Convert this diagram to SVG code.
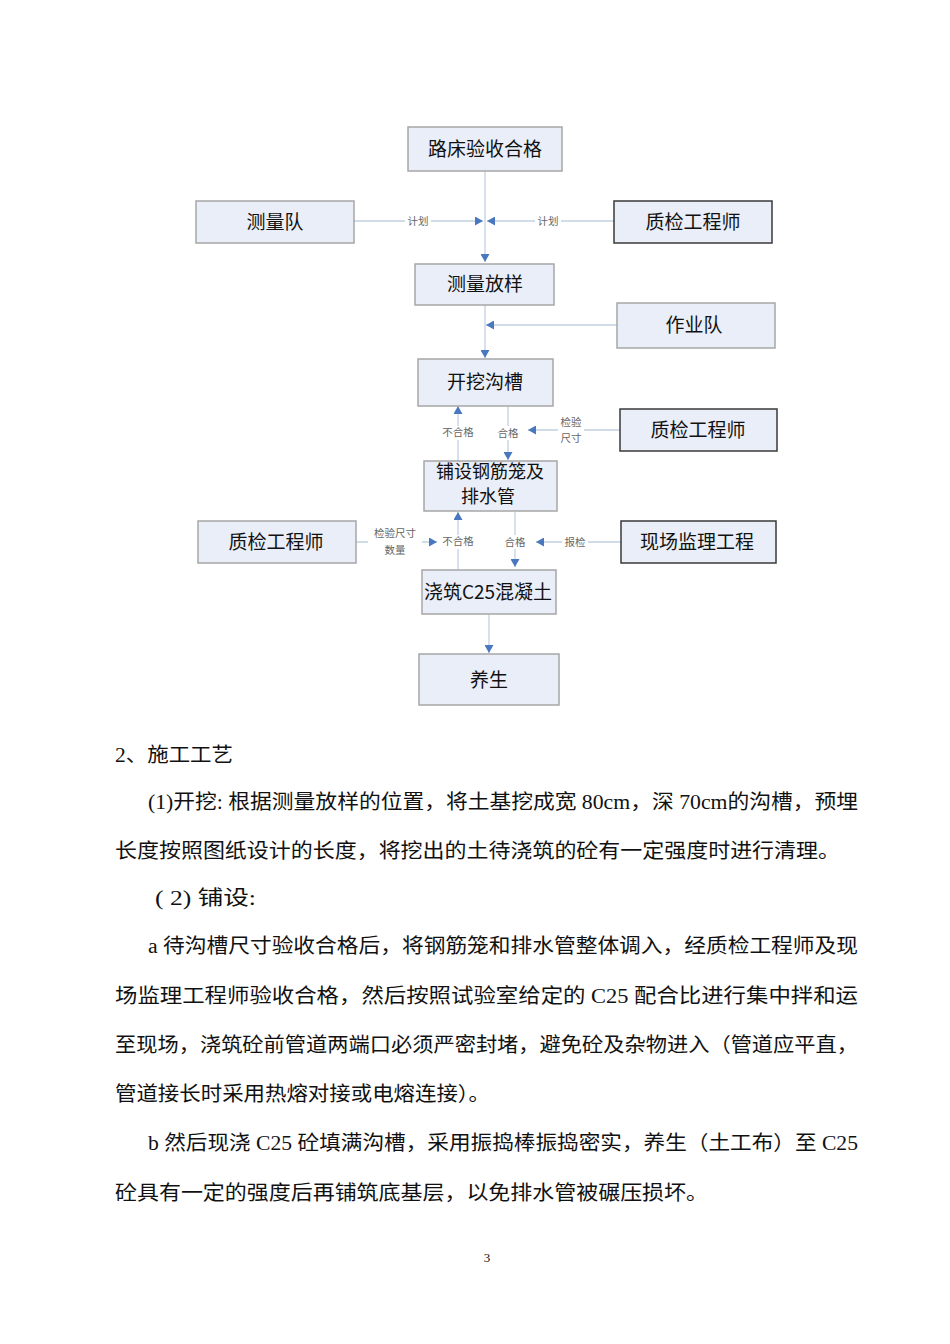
<svg xmlns="http://www.w3.org/2000/svg" width="950" height="1344" viewBox="0 0 950 1344">
<style>
.box{fill:#E9EEF8;stroke:#A6A6A6;stroke-width:1.5}
.dark{fill:#E9EEF8;stroke:#3A3A3A;stroke-width:1.5}
.bt{font-family:"Noto Sans CJK SC",sans-serif;font-size:19px;fill:#111;text-anchor:middle}
.ln{stroke:#C2D0E2;stroke-width:1.3;fill:none}
.lb{font-family:"Liberation Serif","Noto Sans CJK SC",serif;font-size:10.5px;fill:#666;text-anchor:middle}
.bg{fill:#fff}
.p{font-family:"Liberation Serif","Noto Sans CJK SC",serif;font-size:20px;fill:#111}
</style>
<defs>
<marker id="ar" markerWidth="9" markerHeight="9" refX="8" refY="4.5" orient="auto" markerUnits="userSpaceOnUse">
<path d="M0,0 L8,4.5 L0,9 Z" fill="#4A78BE"/>
</marker>
</defs>
<rect width="950" height="1344" fill="#fff"/>

<g id="connectors">
<line class="ln" x1="485" y1="171" x2="485" y2="262" marker-end="url(#ar)"/>
<line class="ln" x1="354" y1="221" x2="483" y2="221" marker-end="url(#ar)"/>
<line class="ln" x1="614" y1="221" x2="487" y2="221" marker-end="url(#ar)"/>
<rect class="bg" x="405" y="214" width="26" height="14"/>
<text class="lb" x="418" y="225">计划</text>
<rect class="bg" x="535" y="214" width="26" height="14"/>
<text class="lb" x="548" y="225">计划</text>

<line class="ln" x1="617" y1="325" x2="486" y2="325" marker-end="url(#ar)"/>
<line class="ln" x1="485" y1="305" x2="485" y2="358" marker-end="url(#ar)"/>

<line class="ln" x1="458" y1="461" x2="458" y2="406" marker-end="url(#ar)"/>
<line class="ln" x1="508" y1="406" x2="508" y2="460" marker-end="url(#ar)"/>
<line class="ln" x1="620" y1="430" x2="528" y2="430" marker-end="url(#ar)"/>
<rect class="bg" x="440" y="426" width="36" height="14"/>
<text class="lb" x="458" y="436">不合格</text>
<rect class="bg" x="495" y="426" width="26" height="14"/>
<text class="lb" x="508" y="437">合格</text>
<rect class="bg" x="558" y="414" width="26" height="30"/>
<text class="lb" x="571" y="426">检验</text>
<text class="lb" x="571" y="442">尺寸</text>

<line class="ln" x1="458" y1="570" x2="458" y2="512" marker-end="url(#ar)"/>
<line class="ln" x1="515" y1="512" x2="515" y2="567" marker-end="url(#ar)"/>
<line class="ln" x1="356" y1="542" x2="437" y2="542" marker-end="url(#ar)"/>
<line class="ln" x1="621" y1="542" x2="536" y2="542" marker-end="url(#ar)"/>
<rect class="bg" x="368" y="526" width="54" height="30"/>
<text class="lb" x="395" y="537">检验尺寸</text>
<text class="lb" x="395" y="554">数量</text>
<rect class="bg" x="440" y="535" width="36" height="14"/>
<text class="lb" x="458" y="545">不合格</text>
<rect class="bg" x="502" y="535" width="26" height="14"/>
<text class="lb" x="515" y="546">合格</text>
<rect class="bg" x="562" y="535" width="26" height="14"/>
<text class="lb" x="575" y="546">报检</text>

<line class="ln" x1="489" y1="614" x2="489" y2="653" marker-end="url(#ar)"/>
</g>

<g id="n1"><rect class="box" x="408" y="127" width="154" height="44"/><text class="bt" x="485" y="156">路床验收合格</text></g>
<g id="n2"><rect class="box" x="196" y="201" width="158" height="42"/><text class="bt" x="275" y="229">测量队</text></g>
<g id="n3"><rect class="dark" x="614" y="201" width="158" height="42"/><text class="bt" x="693" y="229">质检工程师</text></g>
<g id="n4"><rect class="box" x="415" y="264" width="139" height="41"/><text class="bt" x="485" y="291">测量放样</text></g>
<g id="n5"><rect class="box" x="617" y="303" width="158" height="45"/><text class="bt" x="694" y="332">作业队</text></g>
<g id="n6"><rect class="box" x="418" y="359" width="135" height="47"/><text class="bt" x="485" y="389">开挖沟槽</text></g>
<g id="n7"><rect class="dark" x="620" y="409" width="157" height="42"/><text class="bt" x="698" y="437">质检工程师</text></g>
<g id="n8"><rect class="box" x="424" y="461" width="133" height="50"/><text class="bt" style="font-size:18px" x="490" y="478">铺设钢筋笼及</text><text class="bt" style="font-size:18px" x="488" y="503">排水管</text></g>
<g id="n9"><rect class="box" x="198" y="521" width="158" height="42"/><text class="bt" x="276" y="549">质检工程师</text></g>
<g id="n10"><rect class="dark" x="621" y="521" width="155" height="42"/><text class="bt" x="697" y="549">现场监理工程</text></g>
<g id="n11"><rect class="box" x="422" y="570" width="134" height="44"/><text class="bt" x="488" y="599">浇筑C25混凝土</text></g>
<g id="n12"><rect class="box" x="419" y="654" width="140" height="51"/><text class="bt" x="489" y="687">养生</text></g>

<g id="body">
<text class="p" x="115" y="762" textLength="118" lengthAdjust="spacingAndGlyphs">2、施工工艺</text>
<text class="p" x="148" y="809" textLength="710" lengthAdjust="spacingAndGlyphs">(1)开挖: 根据测量放样的位置，将土基挖成宽 80cm，深 70cm的沟槽，预埋</text>
<text class="p" x="115" y="858" textLength="725" lengthAdjust="spacingAndGlyphs">长度按照图纸设计的长度，将挖出的土待浇筑的砼有一定强度时进行清理。</text>
<text class="p" x="155" y="905" textLength="101" lengthAdjust="spacingAndGlyphs">( 2)  铺设:</text>
<text class="p" x="148" y="953" textLength="710" lengthAdjust="spacingAndGlyphs">a 待沟槽尺寸验收合格后，将钢筋笼和排水管整体调入，经质检工程师及现</text>
<text class="p" x="115" y="1003" textLength="743" lengthAdjust="spacingAndGlyphs">场监理工程师验收合格，然后按照试验室给定的 C25 配合比进行集中拌和运</text>
<text class="p" x="115" y="1052" textLength="743" lengthAdjust="spacingAndGlyphs">至现场，浇筑砼前管道两端口必须严密封堵，避免砼及杂物进入（管道应平直，</text>
<text class="p" x="115" y="1101" textLength="375" lengthAdjust="spacingAndGlyphs">管道接长时采用热熔对接或电熔连接）。</text>
<text class="p" x="148" y="1150" textLength="710" lengthAdjust="spacingAndGlyphs">b 然后现浇 C25 砼填满沟槽，采用振捣棒振捣密实，养生（土工布）至 C25</text>
<text class="p" x="115" y="1200" textLength="593" lengthAdjust="spacingAndGlyphs">砼具有一定的强度后再铺筑底基层，以免排水管被碾压损坏。</text>
<text class="p" x="487" y="1262" style="font-size:13px" text-anchor="middle">3</text>
</g>
</svg>
